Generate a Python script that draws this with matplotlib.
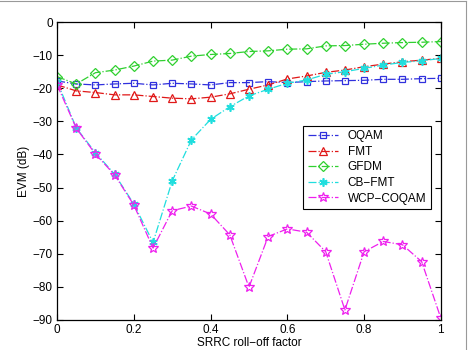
import matplotlib
matplotlib.use("Agg")
import matplotlib.pyplot as plt
from matplotlib.lines import Line2D
import numpy as np

x = [0, 0.05, 0.1, 0.15, 0.2, 0.25, 0.3, 0.35, 0.4, 0.45, 0.5,
     0.55, 0.6, 0.65, 0.7, 0.75, 0.8, 0.85, 0.9, 0.95, 1.0]

oqam = [-17.8, -18.7, -19.0, -18.7, -18.5, -19.0, -18.5, -18.7, -19.0, -18.3, -18.3,
        -18.0, -18.3, -18.0, -17.8, -17.7, -17.6, -17.3, -17.3, -17.1, -17.0]
fmt = [-19.0, -20.8, -21.3, -22.0, -22.0, -22.5, -23.0, -23.2, -22.7, -21.7, -20.3,
       -19.0, -17.2, -16.3, -15.2, -14.5, -13.5, -12.7, -12.0, -11.5, -11.0]
gfdm = [-16.5, -18.7, -15.3, -14.5, -13.3, -11.8, -11.5, -10.3, -9.8, -9.5, -8.9,
        -8.7, -8.2, -8.1, -7.2, -7.1, -6.7, -6.4, -6.2, -6.1, -5.9]
cbfmt = [-18.0, -32.0, -39.5, -46.0, -55.0, -66.6, -48.0, -35.6, -29.4, -25.6, -22.3,
         -20.3, -18.5, -17.5, -15.8, -15.0, -14.0, -13.0, -12.2, -11.7, -11.0]
wcp = [-19.0, -32.1, -39.9, -46.2, -55.3, -68.3, -57.0, -55.6, -58.0, -64.3, -80.1,
       -64.8, -62.5, -63.5, -69.4, -87.0, -69.4, -66.3, -67.3, -72.4, -89.5]

labels = ["OQAM", "FMT", "GFDM", "CB\u2212FMT", "WCP\u2212COQAM"]
xticks = [0, 0.2, 0.4, 0.6, 0.8, 1]
yticks = [-90, -80, -70, -60, -50, -40, -30, -20, -10, 0]

plt.rcParams['font.family'] = ['Liberation Sans', 'DejaVu Sans']
plt.rcParams['font.size'] = 8.5

fig = plt.figure(figsize=(4.68, 3.5), dpi=100)
ax = fig.add_axes([0.122, 0.086, 0.820, 0.851])

ax.plot(x, oqam, '-.', color='#3030dd', marker='s', mfc='none', ms=5, lw=0.9, mew=0.9, label=labels[0])
ax.plot(x, fmt, '-.', color='#e01818', marker='^', mfc='none', ms=6, lw=0.9, mew=0.9, label=labels[1])
ax.plot(x, gfdm, '-.', color='#30d030', marker='D', mfc='none', ms=5, lw=0.9, mew=0.9, label=labels[2])
ax.plot(x, cbfmt, '-.', color='#20dede', marker=(6, 2, 0), ms=6, lw=0.9, mew=1.2, label=labels[3])
ax.plot(x, wcp, '-.', color='#ee20ee', marker='*', mfc='none', ms=7.5, lw=0.9, mew=0.9, label=labels[4])

ax.set_xlim(0, 1)
ax.set_ylim(-90, 0)
ax.set_xticks(xticks)
ax.set_xticklabels(["0", "0.2", "0.4", "0.6", "0.8", "1"])
ax.set_yticks(yticks)
ax.set_yticklabels(["\u221290", "\u221280", "\u221270", "\u221260", "\u221250",
                    "\u221240", "\u221230", "\u221220", "\u221210", "0"])
ax.tick_params(direction='in', top=True, right=True, length=4, labelsize=8.5, pad=3)
for s in ax.spines.values():
    s.set_linewidth(0.9)
ax.set_xlabel("SRRC roll\u2212off factor", fontsize=8.5, labelpad=1)
ax.set_ylabel("EVM (dB)", fontsize=8.5, labelpad=2)

leg = ax.legend(loc='upper right', bbox_to_anchor=(0.99, 0.672), fontsize=8.5,
                fancybox=False, edgecolor='black', framealpha=1, borderpad=0.4,
                labelspacing=0.3, handlelength=2.6, handletextpad=0.8)
leg.get_frame().set_linewidth(0.8)

# thin gray image frame (top and right edges)
fig.add_artist(Line2D([0, 0.995], [0.996, 0.996], transform=fig.transFigure, color='#999999', lw=0.8))
fig.add_artist(Line2D([0.995, 0.995], [0, 0.996], transform=fig.transFigure, color='#999999', lw=0.8))

fig.savefig("out.png", dpi=100)
